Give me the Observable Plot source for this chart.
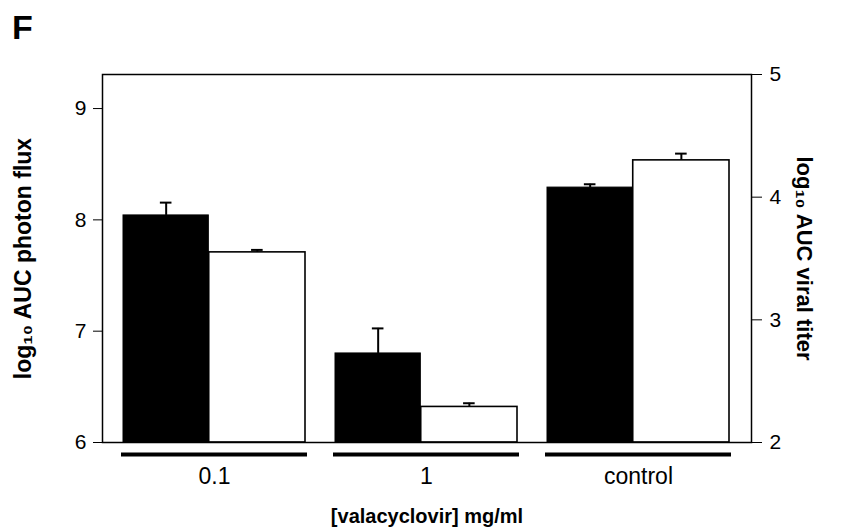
<!DOCTYPE html>
<html>
<head>
<meta charset="utf-8">
<script src="https://cdn.jsdelivr.net/npm/d3@7"></script>
<script src="https://cdn.jsdelivr.net/npm/@observablehq/plot@0.6"></script>
<style>
  html, body { margin: 0; padding: 0; background: white; }
  #wrap { position: relative; width: 841px; height: 527px; }
  #panel { position: absolute; left: 12px; top: 10px; font: bold 34px 'Liberation Sans', Arial, sans-serif; line-height: 1; }
  svg g[aria-label$="axis label"] { font-weight: bold; }
</style>
</head>
<body>
<div id="wrap"><div id="panel">F</div></div>
<script>
// ---- data ----
const groups = ["0.1", "1", "control"];
const photonFlux = [8.04, 6.80, 8.29];        // left axis, log10 AUC photon flux
const photonFluxErr = [0.115, 0.225, 0.03];
const viralTiter = [3.55, 2.29, 4.30];        // right axis, log10 AUC viral titer
const viralTiterErr = [0.02, 0.03, 0.055];
const leftTicks = [6, 7, 8, 9];
const rightTicks = [2, 3, 4, 5];
const leftDomain = [6, 9.306];
const rightDomain = [2, 5];
const leftTitle = "log₁₀ AUC photon flux";
const rightTitle = "log₁₀ AUC viral titer";
const xTitle = "[valacyclovir] mg/ml";

const toLeft = r => leftDomain[0] + (r - rightDomain[0]) * (leftDomain[1] - leftDomain[0]) / (rightDomain[1] - rightDomain[0]);
const toRight = l => rightDomain[0] + (l - leftDomain[0]) * (rightDomain[1] - rightDomain[0]) / (leftDomain[1] - leftDomain[0]);

const photonRows = groups.map((g, i) => ({group: g, value: photonFlux[i], top: photonFlux[i] + photonFluxErr[i]}));
const titerRows = groups.map((g, i) => ({group: g, value: toLeft(viralTiter[i]), top: toLeft(viralTiter[i] + viralTiterErr[i])}));

// layout
const W = 841, H = 527, mL = 102, mR = 90, mT = 74, mB = 85;
const padIn = 0.14, padOut = 0.1;
const bw = d3.scaleBand().domain(groups).range([mL, W - mR]).paddingInner(padIn).paddingOuter(padOut).bandwidth();
const split = 0.47;            // share of each group band taken by the black bar
const capHalf = 6;
const cBlack = split / 2 * bw;               // black bar centre from band start
const cWhite = (split + (1 - split) / 2) * bw; // white bar centre from band start

const font = "'Liberation Sans', Arial, sans-serif";
const chart = Plot.plot({
  width: W, height: H,
  marginLeft: mL, marginRight: mR, marginTop: mT, marginBottom: mB,
  style: {fontFamily: font, fontSize: "21px", color: "black", background: "transparent"},
  x: {domain: groups, paddingInner: padIn, paddingOuter: padOut, label: null},
  y: {domain: leftDomain, axis: null},
  marks: [
    Plot.barY(photonRows, {x: "group", y1: leftDomain[0], y2: "value", fill: "black", stroke: "black", strokeWidth: 1, insetRight: bw * (1 - split)}),
    Plot.barY(titerRows, {x: "group", y1: leftDomain[0], y2: "value", fill: "white", stroke: "black", strokeWidth: 1.6, insetLeft: bw * split}),
    Plot.ruleX(photonRows, {x: "group", y1: "value", y2: "top", strokeWidth: 2, dx: cBlack - bw / 2}),
    Plot.ruleX(titerRows, {x: "group", y1: "value", y2: "top", strokeWidth: 2, dx: cWhite - bw / 2}),
    Plot.tickY(photonRows, {x: "group", y: "top", strokeWidth: 2, insetLeft: cBlack - capHalf, insetRight: bw - cBlack - capHalf}),
    Plot.tickY(titerRows, {x: "group", y: "top", strokeWidth: 2, insetLeft: cWhite - capHalf, insetRight: bw - cWhite - capHalf}),
    Plot.tickY(groups, {x: d => d, y: () => leftDomain[0], dy: 12, strokeWidth: 4, insetLeft: -2, insetRight: -2}),
    Plot.frame({strokeWidth: 1.5}),
    Plot.axisY(leftTicks, {anchor: "left", tickSize: 9, tickPadding: 7, fontSize: 21, tickFormat: d => String(d), label: null}),
    Plot.axisY(rightTicks.map(toLeft), {anchor: "right", tickSize: 10, tickPadding: 8, fontSize: 21, tickFormat: d => String(Math.round(toRight(d))), label: null}),
    Plot.text([leftTitle], {text: d => d, frameAnchor: "left", textAnchor: "middle", lineAnchor: "middle", rotate: -90, dx: -79, fontSize: 23, fontWeight: "bold"}),
    Plot.text([rightTitle], {text: d => d, frameAnchor: "right", textAnchor: "middle", lineAnchor: "middle", rotate: 90, dx: 53, fontSize: 22, fontWeight: "bold"}),
    Plot.axisX({anchor: "bottom", tickSize: 0, tickPadding: 25, fontSize: 23, label: xTitle, labelAnchor: "center", labelOffset: 80})
  ]
});
document.getElementById("wrap").appendChild(chart);
chart.style.position = "absolute";
chart.style.left = "0px";
chart.style.top = "0px";
const xl = chart.querySelector('g[aria-label="x-axis label"]');
if (xl) xl.style.fontSize = "20px";
</script>
</body>
</html>
